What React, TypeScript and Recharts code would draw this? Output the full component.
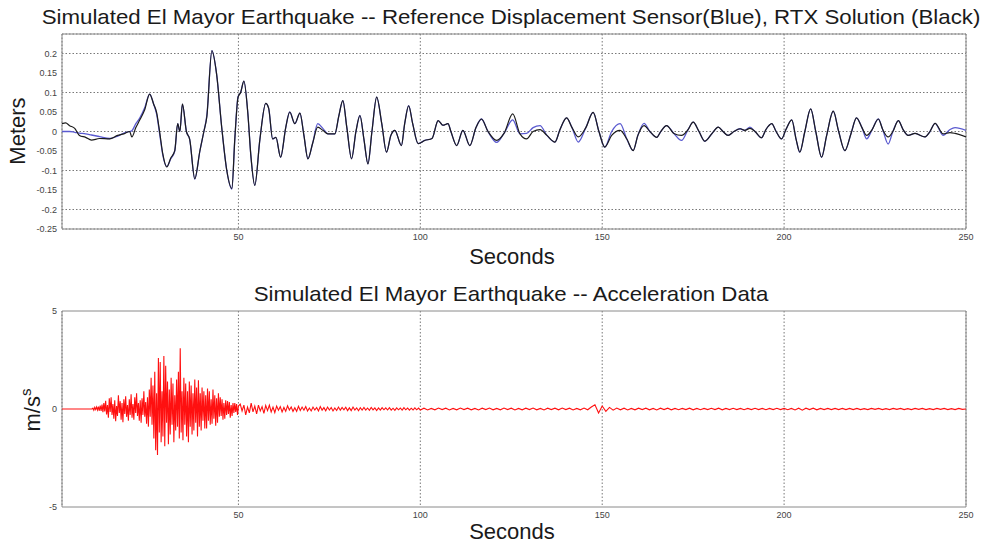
import React from 'react';
import { LineChart, Line, XAxis, YAxis, CartesianGrid, ReferenceArea } from 'recharts';

const FONT = '"Liberation Sans", Arial, Helvetica, sans-serif';

// ---- Displacement (top panel) ----
const dispTime = [
  1.5, 2.5, 3.6, 5, 6.3, 8, 9.6, 11.8, 14.6, 16.8, 18.5, 20.1, 20.7, 21.8, 22.9, 24.2, 25.6, 26.7, 27.5, 28.4,
  29.2, 30.3, 31.4, 32.5, 33.3, 33.9, 34.6, 35.7, 36.6, 38, 39.4, 40.5, 41.3, 42.7, 44, 45.4, 46.8, 48.2, 49, 49.9,
  50.6, 51.5, 52.6, 53.4, 54.5, 55.9, 57.5, 58.3, 59.4, 60.3, 61.6, 63, 64.1, 65.5, 66.9, 68, 69.1, 70.4, 71.8, 73.2,
  74.6, 76.5, 77.6, 78.7, 79.8, 81.1, 82.3, 83.4, 84.5, 85.6, 86.7, 88, 89.4, 90.7, 91.9, 93, 94.8, 95.7, 96.8, 97.9,
  99.4, 101.2, 103.2, 104.9, 106.2, 107.6, 108.4, 110, 111.7, 113.6, 115.3, 116.8, 118.6, 121, 123, 125.4, 127.4, 129.2, 131, 132.9,
  134.8, 137, 138.4, 140.2, 141.7, 143.4, 145.5, 147.5, 149.1, 150.7, 152.6, 154.9, 156.8, 158.5, 159.8, 161.5, 163.1, 165, 166.1, 167.7,
  169.7, 171.8, 173.6, 175, 176.6, 178.2, 180.2, 181.9, 183.2, 184.6, 186.2, 187.9, 189.2, 190.6, 192, 193.8, 195, 196.6, 197.8, 199.3,
  200.5, 202.1, 203.3, 204.3, 205.7, 207.3, 208.7, 210.3, 211.7, 213.5, 215, 216.7, 218.4, 219.9, 221.4, 222.7, 224.2, 225.9, 227.1, 228.6,
  229.9, 231.4, 232.7, 234.1, 236, 238.7, 240.1, 241.5, 243.7, 245.6, 247, 250,
];
const refDisp = [
  0, 0, 0, -0.002, -0.004, -0.006, -0.009, -0.013, -0.018, -0.012, -0.004, 0, 0.002, 0.02, 0.035, 0.06, 0.096, 0.07, 0.045, -0.01,
  -0.06, -0.09, -0.07, -0.05, 0.02, 0, 0.07, 0, -0.02, -0.122, -0.05, 0, 0.04, 0.207, 0.147, 0.011, -0.1, -0.148, -0.02, 0.09,
  0.1, 0.129, 0.045, -0.06, -0.138, -0.02, 0.072, 0.06, -0.019, -0.015, -0.066, 0.01, 0.05, 0.02, 0.047, -0.01, -0.07, -0.03, 0.02, 0.008,
  -0.006, -0.006, 0.04, 0.079, 0.01, -0.07, 0, 0.041, -0.02, -0.083, 0, 0.088, 0.02, -0.053, -0.01, 0.003, -0.036, 0.02, 0.066, 0.02,
  -0.031, -0.023, -0.018, 0.028, 0.016, 0.02, 0, -0.036, 0.003, -0.036, 0.01, 0.032, 0, -0.028, -0.005, 0.03, -0.006, -0.005, 0.01, 0.015,
  -0.01, -0.027, 0.005, 0.035, 0.01, -0.027, 0.01, 0.049, 0, -0.04, 0, 0.02, -0.02, -0.049, -0.01, 0.021, 0, -0.015, 0, 0.015,
  -0.005, -0.023, 0.005, 0.024, 0, -0.025, -0.005, 0.011, 0, -0.01, 0, 0.007, 0.003, 0.011, 0, -0.016, 0.005, 0.02, 0, -0.019,
  0.005, 0.03, -0.02, -0.053, 0, 0.058, 0, -0.066, -0.01, 0.052, 0, -0.049, -0.005, 0.035, 0.01, -0.019, 0.005, 0.032, 0.005, -0.032,
  0, 0.028, 0.005, -0.01, -0.005, -0.014, 0, 0.021, -0.01, 0.005, 0.01, 0.003,
];
const rtxDisp = [
  0.02, 0.022, 0.015, 0.008, -0.01, -0.015, -0.022, -0.018, -0.019, -0.01, -0.006, 0, -0.014, 0.01, 0.03, 0.055, 0.096, 0.07, 0.049, -0.005,
  -0.057, -0.091, -0.068, -0.049, 0.02, 0, 0.071, 0, -0.02, -0.121, -0.05, 0, 0.037, 0.207, 0.147, 0.011, -0.1, -0.146, -0.02, 0.088,
  0.1, 0.129, 0.045, -0.06, -0.138, -0.02, 0.072, 0.06, -0.019, -0.015, -0.066, 0.01, 0.05, 0.02, 0.047, -0.01, -0.07, -0.03, 0.011, 0.003,
  -0.006, -0.006, 0.04, 0.079, 0.01, -0.07, 0, 0.041, -0.02, -0.083, 0, 0.088, 0.02, -0.053, -0.01, 0.003, -0.036, 0.02, 0.066, 0.02,
  -0.031, -0.023, -0.018, 0.028, 0.016, 0.02, 0, -0.036, 0.003, -0.036, 0.01, 0.032, 0, -0.023, -0.005, 0.045, -0.006, -0.019, 0, 0.005,
  -0.01, -0.027, 0.005, 0.035, 0.01, -0.014, 0.01, 0.049, 0, -0.04, -0.01, 0.003, -0.02, -0.049, -0.01, 0.015, 0, -0.015, 0, 0.015,
  -0.005, -0.01, 0.005, 0.024, 0, -0.025, -0.005, 0.011, 0, -0.01, 0, 0.007, 0.003, 0.008, 0, -0.016, 0.005, 0.02, 0, -0.019,
  0.005, 0.03, -0.02, -0.053, 0, 0.058, 0, -0.066, -0.01, 0.052, 0, -0.049, -0.005, 0.035, 0.01, -0.01, 0.005, 0.032, 0.005, -0.014,
  0, 0.028, 0.005, -0.01, -0.005, -0.014, 0, 0.021, -0.006, -0.003, -0.005, -0.014,
];
const dispYTicks = [-0.25, -0.2, -0.15, -0.1, -0.05, 0, 0.05, 0.1, 0.15, 0.2];
const secondTicks = [50, 100, 150, 200, 250];

// ---- Acceleration (bottom panel) ----
const accelQuietTime = [1.5, 5, 9.75];
const accelQuiet = [0, 0, 0];
const accelBurstStart = 10;
const accelBurstStep = 0.25;
const accelBurst = [
  0.04, -0.06, 0.08, -0.03, 0.1, -0.05, 0.12, -0.09, 0.18, -0.1, 0.22, -0.16, 0.3, -0.12, 0.42, -0.28,
  0.2, -0.45, 0.55, -0.15, 0.6, -0.3, 0.25, -0.5, 0.45, -0.62, 0.15, -0.35, 0.7, -0.2, 0.4, -0.55,
  0.3, -0.68, 0.5, -0.25, 0.65, -0.4, 0.2, -0.6, 0.5, -0.3, 0.75, -0.45, 0.25, -0.55, 0.6, -0.2,
  0.8, -0.35, 0.3, -0.6, 0.45, -0.7, 0.55, -0.3, 0.9, -0.4, 0.35, -0.75, 0.6, -0.9, 1.0, -0.4,
  1.6, -0.8, 1.2, -1.5, 1.9, -2.1, 0.8, -2.35, 2.6, -1.2, 2.4, -1.7, 0.9, -1.4, 2.7, -1.9,
  2.2, -0.7, 1.4, -1.8, 1.0, -1.3, 1.6, -0.8, 1.3, -1.7, 0.7, -1.1, 1.5, -0.9, 1.9, -1.5,
  3.1, -1.2, 0.9, -1.6, 1.6, -0.8, 1.3, -1.4, 0.9, -1.7, 1.4, -0.9, 1.2, -1.3, 0.8, -1.1,
  1.5, -0.7, 1.1, -1.4, 1.47, -0.9, 0.8, -1.1, 1.1, -0.6, 0.9, -1.0, 0.7, -1.0, 1.05, -0.6,
  0.9, -0.8, 0.5, -0.75, 1.0, -0.5, 0.7, -0.85, 0.55, -0.7, 0.8, -0.4, 0.6, -0.35, 0.5, -0.55,
  0.3, -0.5, 0.45, -0.3, 0.4, -0.25, 0.35, -0.45, 0.2, -0.35, 0.3, -0.2, 0.3, -0.15, 0.25, -0.3,
  0.15,
];
const accelMidStart = 50.5;
const accelMidStep = 0.5;
const accelMid = [
  0.25, -0.1, 0.2, -0.3, 0.1, -0.2, 0.3, -0.15, 0.15, -0.25,
  0.2, -0.1, 0.12, -0.22, 0.18, -0.08, 0.2, -0.15, 0.1, -0.18,
  0.15, -0.06, 0.12, -0.15, 0.08, -0.12, 0.16, -0.05, 0.1, -0.12,
  0.06, -0.12, 0.14, -0.08, 0.1, -0.06, 0.12, -0.1, 0.05, -0.1,
  0.1, -0.05, 0.08, -0.1, 0.12, -0.06, 0.07, -0.09, 0.1, -0.05,
  0.08, -0.1, 0.05, -0.08, 0.1, -0.06, 0.08, -0.04, 0.09, -0.08,
  0.06, -0.08, 0.1, -0.05, 0.06, -0.09, 0.07, -0.05, 0.08, -0.06,
  0.05, -0.07, 0.08, -0.04, 0.06, -0.08, 0.05, -0.06, 0.07, -0.04,
  0.06, -0.05, 0.07, -0.06, 0.04, -0.07, 0.06, -0.04, 0.05, -0.06,
  0.07, -0.04, 0.05, -0.06, 0.04, -0.05, 0.06, -0.04, 0.05, -0.05,
];
const accelTailStart = 101;
const accelTailStep = 1;
const accelTail = [
  0.04, -0.05, 0.03, -0.04, 0.05, -0.03, 0.04, -0.05, 0.03, -0.04,
  0.05, -0.03, 0.04, -0.04, 0.03, -0.05, 0.04, -0.03, 0.05, -0.04,
  0.03, -0.04, 0.05, -0.03, 0.04, -0.05, 0.03, -0.04, 0.04, -0.03,
  0.05, -0.04, 0.03, -0.05, 0.04, -0.03, 0.04, -0.04, 0.05, -0.03,
  0.04, -0.05, 0.03, -0.04, 0.05, -0.04, 0.1, 0.22, -0.2, 0.15,
  -0.12, 0.08, -0.06, 0.05, -0.04, 0.04, -0.05, 0.03, -0.04, 0.04,
  -0.03, 0.04, -0.04, 0.03, -0.05, 0.04, -0.03, 0.04, -0.04, 0.03,
  -0.04, 0.03, -0.03, 0.04, -0.04, 0.03, -0.04, 0.03, -0.03, 0.04,
  -0.03, 0.04, -0.04, 0.03, -0.03, 0.04, -0.03, 0.03, -0.04, 0.03,
  -0.03, 0.04, -0.03, 0.03, -0.04, 0.03, -0.03, 0.04, -0.03, 0.03,
  -0.04, 0.03, -0.05, 0.04, -0.06, 0.04, -0.03, 0.04, -0.04, 0.03,
  -0.03, 0.03, -0.03, 0.03, -0.03, 0.03, -0.03, 0.03, -0.03, 0.03,
  -0.03, 0.02, -0.03, 0.03, -0.02, 0.03, -0.03, 0.02, -0.03, 0.03,
  -0.02, 0.03, -0.03, 0.02, -0.03, 0.03, -0.02, 0.03, -0.03, 0.02,
  -0.03, 0.03, -0.02, 0.03, -0.03, 0.02, -0.03, 0.03, -0.02, 0,
];
const accelYTicks = [-5, 0, 5];

const dispData = dispTime.map((t, i) => ({ t, ref: refDisp[i], rtx: rtxDisp[i] }));
const accelData = [
  ...accelQuietTime.map((t, i) => ({ t, a: accelQuiet[i] })),
  ...accelBurst.map((a, i) => ({ t: accelBurstStart + i * accelBurstStep, a })),
  ...accelMid.map((a, i) => ({ t: accelMidStart + i * accelMidStep, a })),
  ...accelTail.map((a, i) => ({ t: accelTailStart + i * accelTailStep, a })),
];

const tickStyle = { fontSize: 9, fill: '#444', fontFamily: FONT };

const textBase: React.CSSProperties = {
  position: 'absolute',
  fontFamily: FONT,
  color: '#1a1a1a',
  lineHeight: 1,
  whiteSpace: 'nowrap',
};

export default function App() {
  return (
    <div style={{ position: 'absolute', left: 0, top: 0, width: 986, height: 549, background: '#fff', fontFamily: FONT }}>
      <div style={{ position: 'absolute', left: 0, top: 0 }}>
        <LineChart width={986} height={270} data={dispData} margin={{ top: 34, right: 20, left: 0, bottom: 0 }}>
          <CartesianGrid stroke="#555" strokeDasharray="1.5 2" strokeWidth={0.8} />
          <XAxis
            dataKey="t"
            type="number"
            domain={[1.5, 250]}
            ticks={secondTicks}
            allowDataOverflow
            height={41}
            tickLine={false}
            axisLine={false}
            tickSize={3}
            tickMargin={2}
            tick={tickStyle}
          />
          <YAxis
            type="number"
            domain={[-0.25, 0.25]}
            ticks={dispYTicks}
            allowDataOverflow
            width={62}
            tickLine={false}
            axisLine={false}
            tickSize={3}
            tickMargin={2}
            tick={tickStyle}
          />
          <ReferenceArea x1={1.5} x2={250} y1={-0.25} y2={0.25} fill="none" fillOpacity={0} stroke="#8a8a8a" strokeWidth={1} />
          <Line dataKey="ref" type="monotone" stroke="#5a5ad0" strokeWidth={1.3} dot={false} isAnimationActive={false} />
          <Line dataKey="rtx" type="monotone" stroke="#1c1c1c" strokeWidth={1.2} dot={false} isAnimationActive={false} />
        </LineChart>
      </div>
      <div style={{ position: 'absolute', left: 0, top: 270 }}>
        <LineChart width={986} height={279} data={accelData} margin={{ top: 41, right: 20, left: 0, bottom: 0 }}>
          <CartesianGrid stroke="#555" strokeDasharray="1.5 2" strokeWidth={0.8} horizontal={false} />
          <XAxis
            dataKey="t"
            type="number"
            domain={[1.5, 250]}
            ticks={secondTicks}
            allowDataOverflow
            height={42}
            tickLine={false}
            axisLine={false}
            tickSize={3}
            tickMargin={2}
            tick={tickStyle}
          />
          <YAxis
            type="number"
            domain={[-5, 5]}
            ticks={accelYTicks}
            allowDataOverflow
            width={62}
            tickLine={false}
            axisLine={false}
            tickSize={3}
            tickMargin={2}
            tick={tickStyle}
          />
          <ReferenceArea x1={1.5} x2={250} y1={-5} y2={5} fill="none" fillOpacity={0} stroke="#8a8a8a" strokeWidth={1} />
          <Line dataKey="a" type="linear" stroke="#ff1010" strokeWidth={1.1} dot={false} isAnimationActive={false} />
        </LineChart>
      </div>

      <div style={{ ...textBase, left: 511, top: 6, fontSize: 21, transform: 'translateX(-50%) scaleX(1.06)' }}>
        Simulated El Mayor Earthquake -- Reference Displacement Sensor(Blue), RTX Solution (Black)
      </div>
      <div style={{ ...textBase, left: 512, top: 246, fontSize: 22, transform: 'translateX(-50%)' }}>Seconds</div>
      <div style={{ ...textBase, left: 18, top: 131, fontSize: 22, transform: 'translate(-50%, -50%) rotate(-90deg)' }}>Meters</div>

      <div style={{ ...textBase, left: 511, top: 283, fontSize: 21, transform: 'translateX(-50%) scaleX(1.06)' }}>
        Simulated El Mayor Earthquake -- Acceleration Data
      </div>
      <div style={{ ...textBase, left: 512, top: 521, fontSize: 22, transform: 'translateX(-50%)' }}>Seconds</div>
      <div style={{ ...textBase, left: 33, top: 410, fontSize: 22, transform: 'translate(-50%, -50%) rotate(-90deg)' }}>
        m/s<sup style={{ fontSize: 15, verticalAlign: 'baseline', position: 'relative', top: -9 }}>s</sup>
      </div>
    </div>
  );
}
